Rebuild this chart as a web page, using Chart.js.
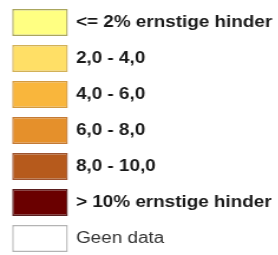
<!DOCTYPE html>
<html>
<head>
<meta charset="utf-8">
<script src="https://cdn.jsdelivr.net/npm/chart.js@4"></script>
<style>
  html, body { margin: 0; padding: 0; background: #ffffff; overflow: hidden; }
  #legendCanvas { display: block; transform: scaleX(1.18); transform-origin: 0 0; }
</style>
</head>
<body>
<canvas id="legendCanvas" width="236" height="260"></canvas>
<script>
// legend classes (Dutch), each drawn as one swatch
var categories = [
  '<= 2% ernstige hinder',
  '2,0 - 4,0',
  '4,0 - 6,0',
  '6,0 - 8,0',
  '8,0 - 10,0',
  '> 10% ernstige hinder',
  'Geen data'
];
var swatchValues = [1, 1, 1, 1, 1, 1, 1];
var fillColours = ['#ffff82', '#ffdf66', '#f9b63c', '#e5902b', '#b65a1c', '#6a0000', '#ffffff'];
var borderColours = ['#aaa65e', '#d2b158', '#d49a3e', '#c47a34', '#9e5430', '#5a1e1e', '#b4b4b4'];

var ctx = document.getElementById('legendCanvas').getContext('2d');
var legendChart = new Chart(ctx, {
  type: 'bar',
  data: {
    labels: categories,
    datasets: [{
      data: swatchValues,
      backgroundColor: fillColours,
      borderColor: borderColours,
      borderWidth: 1.5,
      borderSkipped: false,
      barPercentage: 0.75,
      categoryPercentage: 1
    }]
  },
  options: {
    indexAxis: 'y',
    responsive: false,
    animation: false,
    layout: {
      padding: { left: 10.2, top: 4.5, bottom: 3.5, right: 0 }
    },
    plugins: {
      legend: { display: false },
      tooltip: { enabled: false }
    },
    scales: {
      x: {
        display: false,
        min: 0,
        max: 1
      },
      y: {
        position: 'right',
        grid: { display: false, drawTicks: false },
        border: { display: false },
        afterFit: function (scale) {
          scale.width = 178.4; // keeps the swatches 12..68px wide after scaling
          // no extra room for half labels, the layout padding handles it
          scale.paddingTop = 0;
          scale.paddingBottom = 0;
        },
        ticks: {
          padding: 6.8,
          color: function (c) {
            return c.index === 6 ? '#333333' : '#1a1a1a';
          },
          font: function (c) {
            return {
              family: '"Liberation Sans", Arial, sans-serif',
              size: 16,
              weight: c.index === 6 ? 'normal' : 'bold'
            };
          }
        }
      }
    }
  }
});
</script>
</body>
</html>
